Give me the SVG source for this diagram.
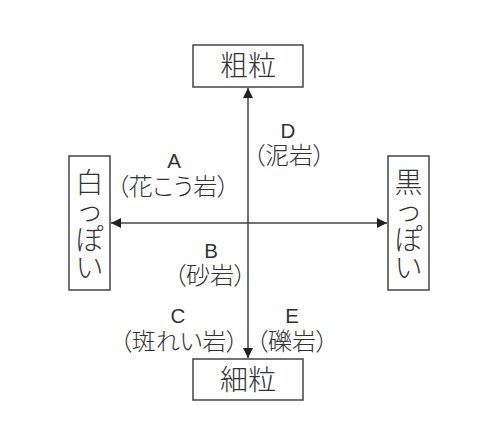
<svg xmlns="http://www.w3.org/2000/svg" width="501" height="436" viewBox="0 0 501 436">
<defs>
<style>
.box{fill:#fff;stroke:#444;stroke-width:1.5}
.big{font-family:"Noto Sans CJK JP","Noto Sans CJK SC",sans-serif;font-size:28px;font-weight:300;fill:#333;text-anchor:middle}
.lbl{font-family:"Liberation Sans",sans-serif;font-size:20.5px;fill:#333;text-anchor:middle}
.jp{font-family:"Noto Sans CJK JP","Noto Sans CJK SC",sans-serif;font-size:24px;font-weight:300;fill:#333;text-anchor:middle;font-feature-settings:"palt"}
.ln{stroke:#444;stroke-width:1.5;fill:none}
</style>
<marker id="ah" viewBox="0 0 10 10" refX="10" refY="5" markerWidth="13" markerHeight="10" markerUnits="userSpaceOnUse" orient="auto">
<path d="M0,0 L10,5 L0,10 Z" fill="#222"/>
</marker>
</defs>
<rect width="501" height="436" fill="#fff"/>
<g id="connectors">
<line class="ln" x1="248" y1="223" x2="248" y2="88" marker-end="url(#ah)"/>
<line class="ln" x1="248" y1="223" x2="248" y2="358" marker-end="url(#ah)"/>
<line class="ln" x1="248" y1="223" x2="111" y2="223" marker-end="url(#ah)"/>
<line class="ln" x1="248" y1="223" x2="387" y2="223" marker-end="url(#ah)"/>
</g>
<g id="node-coarse">
<rect class="box" x="193" y="45" width="110" height="42"/>
<text class="big" x="248" y="76">粗粒</text>
</g>
<g id="node-fine">
<rect class="box" x="193" y="359" width="110" height="41"/>
<text class="big" x="248" y="390">細粒</text>
</g>
<g id="node-white">
<rect class="box" x="69" y="156" width="41" height="134"/>
<text class="big"><tspan x="89.5" y="193">白</tspan><tspan x="89.5" y="221">っ</tspan><tspan x="89.5" y="250">ぽ</tspan><tspan x="89.5" y="278">い</tspan></text>
</g>
<g id="node-black">
<rect class="box" x="388" y="156" width="41" height="134"/>
<text class="big"><tspan x="408.5" y="193">黒</tspan><tspan x="408.5" y="221">っ</tspan><tspan x="408.5" y="250">ぽ</tspan><tspan x="408.5" y="278">い</tspan></text>
</g>
<g id="label-A">
<text class="lbl" x="174" y="168">A</text>
<text class="jp" x="173" y="195">（花こう岩）</text>
</g>
<g id="label-B">
<text class="lbl" x="211" y="258">B</text>
<text class="jp" x="210" y="284">（砂岩）</text>
</g>
<g id="label-C">
<text class="lbl" x="178" y="323">C</text>
<text class="jp" x="179" y="350">（斑れい岩）</text>
</g>
<g id="label-D">
<text class="lbl" x="288" y="138">D</text>
<text class="jp" x="289" y="164">（泥岩）</text>
</g>
<g id="label-E">
<text class="lbl" x="292" y="323">E</text>
<text class="jp" x="292" y="350">（礫岩）</text>
</g>
</svg>
